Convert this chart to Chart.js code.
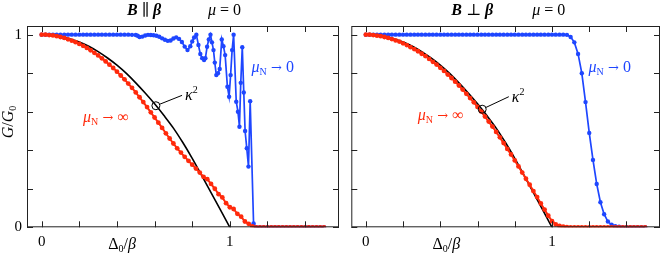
<!DOCTYPE html>
<html>
<head>
<meta charset="utf-8">
<script src="https://cdn.jsdelivr.net/npm/chart.js@4.4.1/dist/chart.umd.min.js"></script>
<style>
  html, body { margin: 0; padding: 0; background: #fff; }
  #wrap { position: relative; width: 664px; height: 254px; overflow: hidden; }
  canvas { position: absolute; top: 0; }
  #leftChart { left: 0; }
  #rightChart { left: 340px; }
</style>
</head>
<body>
<div id="wrap">
  <canvas id="leftChart" width="345" height="254"></canvas>
  <canvas id="rightChart" width="324" height="254"></canvas>
</div>
<script>
// axis ticks
const xTicks = [0, 0.2, 0.4, 0.6, 0.8, 1, 1.2, 1.4]
const yTicks = [0, 0.2, 0.4, 0.6, 0.8, 1]

// common x grid for the dense series (step 0.02, 0 .. 1.5)
const xGrid = Array.from({ length: 76 }, (_, i) => (i * 2) / 100)

// B || beta, mu_N -> infinity (red, left)
const redPar = [
  1.000, 1.000, 0.998, 0.996, 0.992, 0.988, 0.983, 0.976, 0.969, 0.961,
  0.952, 0.942, 0.931, 0.919, 0.906, 0.892, 0.877, 0.861, 0.844, 0.827,
  0.808, 0.788, 0.768, 0.746, 0.724, 0.700, 0.675, 0.650, 0.624, 0.597,
  0.570, 0.543, 0.516, 0.488, 0.461, 0.435, 0.410, 0.388, 0.366, 0.345,
  0.325, 0.305, 0.284, 0.262, 0.250, 0.225, 0.200, 0.172, 0.155, 0.125,
  0.104, 0.095, 0.070, 0.055, 0.030, 0.018, 0.005, 0, 0, 0,
  0, 0, 0, 0, 0, 0, 0, 0, 0, 0,
  0, 0, 0, 0, 0, 0,
]

// B perp beta, mu_N -> infinity (red, right)
const redPerp = [
  1.000, 1.000, 0.998, 0.995, 0.992, 0.988, 0.983, 0.977, 0.970, 0.964,
  0.955, 0.946, 0.935, 0.925, 0.914, 0.901, 0.889, 0.874, 0.859, 0.845,
  0.828, 0.812, 0.793, 0.775, 0.756, 0.736, 0.715, 0.693, 0.671, 0.649,
  0.625, 0.601, 0.575, 0.549, 0.523, 0.495, 0.467, 0.437, 0.407, 0.378,
  0.347, 0.316, 0.284, 0.252, 0.221, 0.188, 0.157, 0.124, 0.092, 0.060,
  0.032, 0.015, 0.007, 0.003, 0.001, 0, 0, 0, 0, 0,
  0, 0, 0, 0, 0, 0, 0, 0, 0, 0,
  0, 0, 0, 0, 0, 0,
]

// B perp beta, mu_N -> 0 (blue, right)
const bluePerp = [
  1, 1, 1, 1, 1, 1, 1, 1, 1, 1,
  1, 1, 1, 1, 1, 1, 1, 1, 1, 1,
  1, 1, 1, 1, 1, 1, 1, 1, 1, 1,
  1, 1, 1, 1, 1, 1, 1, 1, 1, 1,
  1, 1, 1, 1, 1, 1, 1, 1, 1, 1,
  1, 1, 1, 1, 0.999, 0.988, 0.960, 0.900, 0.800, 0.650,
  0.490, 0.350, 0.225, 0.130, 0.068, 0.030, 0.013, 0.006, 0.003, 0.001,
  0, 0, 0, 0, 0, 0,
]

// B || beta, mu_N -> 0 (blue, left), read point by point
const blueParX = [
  0, 0.02, 0.04, 0.06, 0.08, 0.10, 0.12, 0.14, 0.16, 0.18,
  0.20, 0.22, 0.24, 0.26, 0.28, 0.30, 0.32, 0.34, 0.36, 0.38,
  0.40, 0.42, 0.44, 0.46, 0.48, 0.50, 0.51, 0.52, 0.535, 0.55,
  0.565, 0.58, 0.595, 0.61, 0.625, 0.64, 0.655, 0.67, 0.685, 0.70,
  0.715, 0.73, 0.745, 0.76, 0.775, 0.79, 0.80, 0.81, 0.822, 0.833,
  0.843, 0.853, 0.863, 0.87, 0.879, 0.888, 0.897, 0.905, 0.913, 0.92,
  0.928, 0.937, 0.946, 0.957, 0.966, 0.975, 0.987, 0.996, 1.004, 1.012,
  1.02, 1.034, 1.043, 1.051, 1.058, 1.066, 1.074, 1.081, 1.09, 1.099,
  1.108, 1.126, 1.14, 1.16, 1.18, 1.20, 1.22, 1.24, 1.26, 1.28,
  1.30, 1.32, 1.34, 1.36, 1.38, 1.40, 1.42, 1.44, 1.46, 1.48, 1.50,
]
const blueParY = [
  1, 1, 1, 1, 1, 1, 1, 1, 1, 1,
  1, 1, 1, 1, 1, 1, 1, 1, 1, 1,
  1, 1, 1, 1, 0.999, 0.998, 0.994, 0.988, 0.990, 0.996,
  0.999, 0.998, 0.997, 0.994, 0.989, 0.981, 0.974, 0.968, 0.970, 0.980,
  0.986, 0.978, 0.962, 0.938, 0.920, 0.940, 0.965, 0.985, 1.000, 0.946,
  0.900, 0.878, 0.868, 0.878, 0.937, 0.975, 1.000, 0.960, 0.920, 0.855,
  0.790, 0.800, 0.822, 0.975, 0.940, 0.894, 0.730, 0.678, 0.790, 0.920,
  1.000, 0.652, 0.600, 0.522, 0.750, 0.935, 0.700, 0.500, 0.410, 0.315,
  0.655, 0.020, 0, 0, 0, 0, 0, 0, 0, 0,
  0, 0, 0, 0, 0, 0, 0, 0, 0, 0, 0,
]

// kappa^2 curve (black)
const kappaX = [0, 0.05, 0.10, 0.15, 0.20, 0.25, 0.30, 0.35, 0.40, 0.45, 0.50,
  0.55, 0.60, 0.65, 0.70, 0.75, 0.80, 0.85, 0.90, 0.95, 1.00]
const kappaY = [1, 0.998, 0.990, 0.978, 0.962, 0.940, 0.912, 0.879, 0.842, 0.799, 0.750,
  0.697, 0.641, 0.580, 0.515, 0.440, 0.358, 0.270, 0.180, 0.090, 0]

// annotation anchors (data units)
const kappaMarkPar = [0.607, 0.631, 0.746, 0.685]
const kappaMarkPerp = [0.625, 0.613, 0.768, 0.678]

const BLUE = "#1e46ff"
const RED = "#ff2a0c"
const SERIF = "'Liberation Serif', 'DejaVu Serif', serif"
const ARROWFONT = "'DejaVu Serif', serif"

function drawParts(ctx, x, y, parts, align) {
  let w = 0
  parts.forEach((p) => {
    ctx.font = p.f
    w += ctx.measureText(p.t).width
  })
  let cx = align === "center" ? x - w / 2 : x
  parts.forEach((p) => {
    ctx.font = p.f
    ctx.fillText(p.t, cx, y + (p.dy || 0))
    cx += ctx.measureText(p.t).width
  })
}

const it = (s) => `italic ${s}px ${SERIF}`
const rm = (s) => `${s}px ${SERIF}`
const bi = (s) => `bold italic ${s}px ${SERIF}`
const ar = (s) => `${s}px ${ARROWFONT}`

const decoPlugin = {
  id: "deco",
  afterDatasetsDraw(chart, args, o) {
    const { ctx, chartArea: ca } = chart
    const xs = chart.scales.x
    const ys = chart.scales.y
    ctx.save()
    ctx.textBaseline = "alphabetic"
    ctx.strokeStyle = "#222"
    ctx.lineWidth = 1

    // frame
    ctx.strokeRect(ca.left + 0.5, ca.top + 0.5, ca.right - ca.left - 1, ca.bottom - ca.top - 1)

    // inward tick marks on all sides
    ctx.beginPath()
    xTicks.forEach((v) => {
      const px = Math.round(xs.getPixelForValue(v)) + 0.5
      ctx.moveTo(px, ca.bottom)
      ctx.lineTo(px, ca.bottom - 6)
      ctx.moveTo(px, ca.top)
      ctx.lineTo(px, ca.top + 6)
    })
    yTicks.forEach((v) => {
      const py = Math.round(ys.getPixelForValue(v)) + 0.5
      ctx.moveTo(ca.left, py)
      ctx.lineTo(ca.left + 6, py)
      ctx.moveTo(ca.right, py)
      ctx.lineTo(ca.right - 6, py)
    })
    ctx.stroke()

    // kappa^2 marker and leader
    const m = o.kappa
    const cx = xs.getPixelForValue(m[0])
    const cy = ys.getPixelForValue(m[1])
    const ex = xs.getPixelForValue(m[2])
    const ey = ys.getPixelForValue(m[3])
    const d = Math.hypot(ex - cx, ey - cy)
    ctx.strokeStyle = "#000"
    ctx.beginPath()
    ctx.arc(cx, cy, 4, 0, Math.PI * 2)
    ctx.stroke()
    ctx.beginPath()
    ctx.moveTo(cx + ((ex - cx) * 4) / d, cy + ((ey - cy) * 4) / d)
    ctx.lineTo(ex, ey)
    ctx.stroke()
    ctx.fillStyle = "#000"
    drawParts(ctx, ex + 3, ey + 5, [
      { t: "κ", f: it(16) },
      { t: "2", f: rm(10), dy: -7 },
    ])

    // curve labels
    ctx.fillStyle = BLUE
    drawParts(ctx, xs.getPixelForValue(o.blueLabel[0]), ys.getPixelForValue(o.blueLabel[1]), [
      { t: "μ", f: it(16) },
      { t: "N", f: rm(10), dy: 3 },
      { t: " → ", f: ar(13) },
      { t: "0", f: rm(16) },
    ])
    ctx.fillStyle = RED
    drawParts(ctx, xs.getPixelForValue(o.redLabel[0]), ys.getPixelForValue(o.redLabel[1]), [
      { t: "μ", f: it(16) },
      { t: "N", f: rm(10), dy: 3 },
      { t: " → ", f: ar(13) },
      { t: "∞", f: rm(16) },
    ])

    // panel title
    ctx.fillStyle = "#000"
    drawParts(ctx, ca.left + 100, 15, [
      { t: "B", f: bi(16) },
      { t: o.rel, f: rm(16) },
      { t: "β", f: bi(16) },
    ])
    drawParts(ctx, ca.left + 181, 15, [
      { t: "μ", f: it(16) },
      { t: " = 0", f: rm(16) },
    ])

    // x axis title
    drawParts(ctx, ca.left + 95, 249, [
      { t: "Δ", f: rm(16) },
      { t: "0", f: rm(10), dy: 3 },
      { t: "/", f: rm(16) },
      { t: "β", f: it(16) },
    ], "center")

    // y axis title (left panel only)
    if (o.yTitle) {
      ctx.translate(13, 122)
      ctx.rotate(-Math.PI / 2)
      drawParts(ctx, 0, 0, [
        { t: "G", f: it(16) },
        { t: "/", f: rm(16) },
        { t: "G", f: it(16) },
        { t: "0", f: rm(10), dy: 3 },
      ], "center")
    }
    ctx.restore()
  },
}

function makePanel(canvasId, cfg) {
  const series = [
    {
      label: "red",
      data: xGrid.map((x, i) => ({ x, y: cfg.red[i] })),
      borderColor: RED,
      backgroundColor: RED,
      borderWidth: 2,
      pointRadius: 2.4,
      pointBorderWidth: 0,
      tension: 0,
    },
    {
      label: "blue",
      data: cfg.blueX.map((x, i) => ({ x, y: cfg.blueY[i] })),
      borderColor: BLUE,
      backgroundColor: BLUE,
      borderWidth: 1.7,
      pointRadius: 2.2,
      pointBorderWidth: 0,
      tension: 0,
    },
    {
      label: "kappa",
      data: kappaX.map((x, i) => ({ x, y: kappaY[i] })),
      borderColor: "#000",
      borderWidth: 1.6,
      pointRadius: 0,
      cubicInterpolationMode: "monotone",
    },
  ]

  return new Chart(document.getElementById(canvasId), {
    type: "line",
    data: { datasets: series },
    options: {
      responsive: false,
      animation: false,
      layout: { padding: { top: 26, right: cfg.padRight, bottom: 0, left: 0 } },
      plugins: {
        legend: { display: false },
        tooltip: { enabled: false },
        deco: cfg.deco,
      },
      scales: {
        x: {
          type: "linear",
          min: -0.078,
          max: 1.58,
          afterBuildTicks: (s) => {
            s.ticks = xTicks.map((v) => ({ value: v }))
          },
          afterFit: (s) => {
            s.height = 26.7
          },
          grid: { display: false, drawTicks: false },
          border: { display: false },
          ticks: {
            autoSkip: false,
            maxRotation: 0,
            padding: 6,
            color: "#000",
            font: { family: SERIF, size: 15 },
            callback: (v) => (v === 0 ? "0" : v === 1 ? "1" : ""),
          },
        },
        y: {
          type: "linear",
          min: 0,
          max: 1.045,
          afterBuildTicks: (s) => {
            s.ticks = yTicks.map((v) => ({ value: v }))
          },
          afterFit: (s) => {
            s.width = cfg.yWidth
          },
          grid: { display: false, drawTicks: false },
          border: { display: false },
          ticks: {
            padding: 5,
            color: "#000",
            font: { family: SERIF, size: 15 },
            callback: (v) => (cfg.yLabels ? (v === 0 ? "0" : v === 1 ? "1" : "") : ""),
          },
        },
      },
    },
    plugins: [decoPlugin],
  })
}

makePanel("leftChart", {
  red: redPar,
  blueX: blueParX,
  blueY: blueParY,
  yWidth: 27,
  padRight: 6,
  yLabels: true,
  deco: {
    kappa: kappaMarkPar,
    rel: " ∥ ",
    blueLabel: [1.115, 0.806],
    redLabel: [0.22, 0.547],
    yTitle: true,
  },
})

makePanel("rightChart", {
  red: redPerp,
  blueX: xGrid,
  blueY: bluePerp,
  yWidth: 11.3,
  padRight: 1.3,
  yLabels: false,
  deco: {
    kappa: kappaMarkPerp,
    rel: " ⊥ ",
    blueLabel: [1.196, 0.806],
    redLabel: [0.279, 0.557],
    yTitle: false,
  },
})
</script>
</body>
</html>
